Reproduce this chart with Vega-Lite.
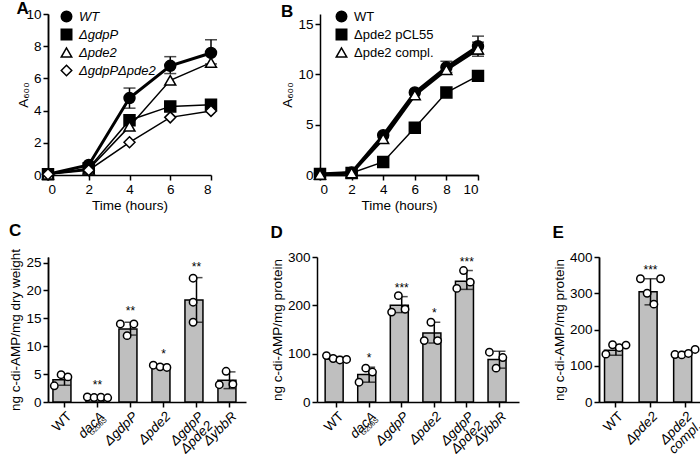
{
 "$schema": "https://vega.github.io/schema/vega-lite/v6.json",
 "background": "white",
 "padding": {"left": 8, "top": 0, "right": 0, "bottom": 0},
 "config": {
  "view": {"stroke": null},
  "font": "Liberation Sans",
  "style": {"guide-label": {"fontSize": 13.5, "fill": "black"}, "guide-title": {"fontSize": 13.5, "fill": "black", "fontWeight": "normal"}},
  "axis": {"domainColor": "black", "domainWidth": 1.5, "tickColor": "black", "tickWidth": 1.5, "tickSize": 5, "labelColor": "black", "labelFontSize": 13.5, "titleFontSize": 13.5, "titleFontWeight": "normal", "titleColor": "black", "grid": false, "labelPadding": 2, "labelOverlap": false, "titlePadding": 3},
  "title": {"fontSize": 17, "fontWeight": "bold", "anchor": "start", "frame": "bounds", "color": "black"},
  "legend": {"labelFontSize": 13, "labelColor": "black"}
 },
 "datasets": {
  "A": [
   {"s": "WT", "t": 0, "v": 0.05}, {"s": "WT", "t": 2, "v": 0.62}, {"s": "WT", "t": 4, "v": 4.78, "lo": 4.15, "hi": 5.4}, {"s": "WT", "t": 6, "v": 6.78, "lo": 6.3, "hi": 7.35}, {"s": "WT", "t": 8, "v": 7.58, "lo": 6.9, "hi": 8.4},
   {"s": "ΔgdpP", "t": 0, "v": 0.05}, {"s": "ΔgdpP", "t": 2, "v": 0.42}, {"s": "ΔgdpP", "t": 4, "v": 3.4}, {"s": "ΔgdpP", "t": 6, "v": 4.26}, {"s": "ΔgdpP", "t": 8, "v": 4.37},
   {"s": "Δpde2", "t": 0, "v": 0.05}, {"s": "Δpde2", "t": 2, "v": 0.35}, {"s": "Δpde2", "t": 4, "v": 3.02}, {"s": "Δpde2", "t": 6, "v": 5.88}, {"s": "Δpde2", "t": 8, "v": 6.98},
   {"s": "ΔgdpPΔpde2", "t": 0, "v": 0.05}, {"s": "ΔgdpPΔpde2", "t": 2, "v": 0.3}, {"s": "ΔgdpPΔpde2", "t": 4, "v": 2.03}, {"s": "ΔgdpPΔpde2", "t": 6, "v": 3.58}, {"s": "ΔgdpPΔpde2", "t": 8, "v": 3.98}
  ],
  "B": [
   {"s": "WT", "t": 0, "v": 0.1}, {"s": "WT", "t": 2, "v": 0.25}, {"s": "WT", "t": 4, "v": 3.95}, {"s": "WT", "t": 6, "v": 8.2}, {"s": "WT", "t": 8, "v": 10.7, "lo": 10.2, "hi": 11.3}, {"s": "WT", "t": 10, "v": 12.8, "lo": 12.0, "hi": 13.8},
   {"s": "Δpde2 pCL55", "t": 0, "v": 0.1}, {"s": "Δpde2 pCL55", "t": 2, "v": 0.2}, {"s": "Δpde2 pCL55", "t": 4, "v": 1.3}, {"s": "Δpde2 pCL55", "t": 6, "v": 4.7}, {"s": "Δpde2 pCL55", "t": 8, "v": 8.2}, {"s": "Δpde2 pCL55", "t": 10, "v": 9.85},
   {"s": "Δpde2 compl.", "t": 0, "v": 0.05}, {"s": "Δpde2 compl.", "t": 2, "v": 0.2}, {"s": "Δpde2 compl.", "t": 4, "v": 3.6}, {"s": "Δpde2 compl.", "t": 6, "v": 7.95}, {"s": "Δpde2 compl.", "t": 8, "v": 10.45}, {"s": "Δpde2 compl.", "t": 10, "v": 12.5, "lo": 11.8, "hi": 13.2}
  ],
  "Cb": [
   {"g": "WT", "m": 4.0, "lo": 3.0, "hi": 4.9, "st": ""},
   {"g": "dacA", "m": 0.8, "lo": 0.6, "hi": 1.0, "st": "**", "sub": "G206S"},
   {"g": "ΔgdpP", "m": 13.1, "lo": 12.0, "hi": 14.3, "st": "**"},
   {"g": "Δpde2", "m": 6.35, "lo": 6.1, "hi": 6.7, "st": "*"},
   {"g": "ΔgdpP|Δpde2", "m": 18.3, "lo": 14.3, "hi": 22.3, "st": "**"},
   {"g": "ΔybbR", "m": 3.9, "lo": 2.4, "hi": 5.4, "st": ""}
  ],
  "Cp": [
   {"g": "WT", "r": 1, "v": 2.9}, {"g": "WT", "r": 2, "v": 4.9}, {"g": "WT", "r": 3, "v": 4.5},
   {"g": "dacA", "r": 1, "v": 0.9}, {"g": "dacA", "r": 2, "v": 0.8}, {"g": "dacA", "r": 3, "v": 0.85}, {"g": "dacA", "r": 4, "v": 0.75},
   {"g": "ΔgdpP", "r": 1, "v": 14.0}, {"g": "ΔgdpP", "r": 2, "v": 11.9}, {"g": "ΔgdpP", "r": 3, "v": 14.0},
   {"g": "Δpde2", "r": 1, "v": 6.6}, {"g": "Δpde2", "r": 2, "v": 6.3}, {"g": "Δpde2", "r": 3, "v": 6.2},
   {"g": "ΔgdpP|Δpde2", "r": 2, "v": 22.2}, {"g": "ΔgdpP|Δpde2", "r": 2, "v": 17.9}, {"g": "ΔgdpP|Δpde2", "r": 2, "v": 14.3},
   {"g": "ΔybbR", "r": 2, "v": 5.5}, {"g": "ΔybbR", "r": 1, "v": 3.1}, {"g": "ΔybbR", "r": 3, "v": 3.2}
  ],
  "Db": [
   {"g": "WT", "m": 89, "lo": 85, "hi": 94, "st": ""},
   {"g": "dacA", "m": 57, "lo": 41, "hi": 72, "st": "*", "sub": "G206S"},
   {"g": "ΔgdpP", "m": 200, "lo": 185, "hi": 218, "st": "***"},
   {"g": "Δpde2", "m": 143, "lo": 122, "hi": 165, "st": "*"},
   {"g": "ΔgdpP|Δpde2", "m": 250, "lo": 233, "hi": 272, "st": "***"},
   {"g": "ΔybbR", "m": 88, "lo": 70, "hi": 105, "st": ""}
  ],
  "Dp": [
   {"g": "WT", "r": 1, "v": 96}, {"g": "WT", "r": 2, "v": 90}, {"g": "WT", "r": 3, "v": 87}, {"g": "WT", "r": 4, "v": 88},
   {"g": "dacA", "r": 1, "v": 41}, {"g": "dacA", "r": 2, "v": 70}, {"g": "dacA", "r": 3, "v": 62},
   {"g": "ΔgdpP", "r": 1, "v": 186}, {"g": "ΔgdpP", "r": 2, "v": 220}, {"g": "ΔgdpP", "r": 3, "v": 192},
   {"g": "Δpde2", "r": 1, "v": 127}, {"g": "Δpde2", "r": 2, "v": 165}, {"g": "Δpde2", "r": 3, "v": 127},
   {"g": "ΔgdpP|Δpde2", "r": 1, "v": 235}, {"g": "ΔgdpP|Δpde2", "r": 2, "v": 272}, {"g": "ΔgdpP|Δpde2", "r": 3, "v": 248},
   {"g": "ΔybbR", "r": 1, "v": 103}, {"g": "ΔybbR", "r": 2, "v": 70}, {"g": "ΔybbR", "r": 3, "v": 92}
  ],
  "Eb": [
   {"g": "WT", "m": 143, "lo": 129, "hi": 156, "st": ""},
   {"g": "Δpde2", "m": 304, "lo": 268, "hi": 340, "st": "***"},
   {"g": "Δpde2|compl.", "m": 133, "lo": 128, "hi": 139, "st": ""}
  ],
  "Ep": [
   {"g": "WT", "r": 1, "v": 132}, {"g": "WT", "r": 2, "v": 158}, {"g": "WT", "r": 3, "v": 150}, {"g": "WT", "r": 4, "v": 157},
   {"g": "Δpde2", "r": 1, "v": 340}, {"g": "Δpde2", "r": 2, "v": 300}, {"g": "Δpde2", "r": 3, "v": 270}, {"g": "Δpde2", "r": 4, "v": 340},
   {"g": "Δpde2|compl.", "r": 1, "v": 131}, {"g": "Δpde2|compl.", "r": 2, "v": 130}, {"g": "Δpde2|compl.", "r": 3, "v": 134}, {"g": "Δpde2|compl.", "r": 4, "v": 145}
  ]
 },
 "spacing": 10,
 "vconcat": [
  {
   "spacing": 60,
   "hconcat": [
    {
     "width": 163, "height": 161,
     "title": {"text": "A", "offset": -11},
     "data": {"name": "A"},
     "layer": [
      {
       "mark": {"type": "line", "color": "black"},
       "encoding": {
        "x": {"field": "t", "type": "quantitative", "scale": {"domain": [0, 8]}, "axis": {"values": [0, 2, 4, 6, 8], "title": "Time (hours)"}},
        "y": {"field": "v", "type": "quantitative", "scale": {"domain": [0, 10]}, "axis": {"values": [0, 4, 8], "title": "A₆₀₀"}},
        "detail": {"field": "s"},
        "strokeWidth": {"condition": {"test": "datum.s === 'WT'", "value": 3}, "value": 1.5}
       }
      },
      {
       "transform": [{"filter": "isValid(datum.hi)"}],
       "mark": {"type": "rule", "color": "black", "strokeWidth": 1.5},
       "encoding": {"x": {"field": "t", "type": "quantitative"}, "y": {"field": "lo", "type": "quantitative", "axis": null}, "y2": {"field": "hi"}}
      },
      {
       "transform": [{"filter": "isValid(datum.hi)"}, {"fold": ["lo", "hi"], "as": ["k", "e"]}],
       "mark": {"type": "tick", "color": "black", "thickness": 1.5, "size": 12, "orient": "horizontal"},
       "encoding": {"x": {"field": "t", "type": "quantitative"}, "y": {"field": "e", "type": "quantitative", "axis": null}}
      },
      {
       "mark": {"type": "point", "strokeWidth": 1.5, "size": 120, "opacity": 1},
       "encoding": {
        "x": {"field": "t", "type": "quantitative"},
        "y": {"field": "v", "type": "quantitative", "axis": {"values": [2, 6, 10], "title": null, "orient": "left"}},
        "shape": {"field": "s", "type": "nominal", "sort": null, "scale": {"domain": ["WT", "ΔgdpP", "Δpde2", "ΔgdpPΔpde2"], "range": ["circle", "square", "triangle-up", "diamond"]}, "legend": {"title": null, "orient": "none", "legendX": 12, "legendY": -4, "padding": 0, "symbolStrokeWidth": 1.5, "symbolSize": 110, "rowPadding": 1, "labelFontStyle": "italic", "labelFontSize": 13, "labelOffset": 6}},
        "fill": {"field": "s", "type": "nominal", "sort": null, "scale": {"domain": ["WT", "ΔgdpP", "Δpde2", "ΔgdpPΔpde2"], "range": ["black", "black", "white", "white"]}, "legend": {"title": null, "orient": "none", "legendX": 12, "legendY": -4, "padding": 0, "symbolStrokeWidth": 1.5, "symbolSize": 110, "rowPadding": 1, "labelFontStyle": "italic", "labelFontSize": 13, "labelOffset": 6}},
        "stroke": {"field": "s", "type": "nominal", "sort": null, "scale": {"domain": ["WT", "ΔgdpP", "Δpde2", "ΔgdpPΔpde2"], "range": ["black", "black", "black", "black"]}, "legend": {"title": null, "orient": "none", "legendX": 12, "legendY": -4, "padding": 0, "symbolStrokeWidth": 1.5, "symbolSize": 110, "rowPadding": 1, "labelFontStyle": "italic", "labelFontSize": 13, "labelOffset": 6}}
       }
      }
     ],
     "resolve": {"axis": {"y": "independent"}}
    },
    {
     "width": 158, "height": 161,
     "title": {"text": "B", "offset": -11},
     "data": {"name": "B"},
     "layer": [
      {
       "mark": {"type": "line", "color": "black"},
       "encoding": {
        "x": {"field": "t", "type": "quantitative", "scale": {"domain": [0, 10]}, "axis": {"values": [0, 4, 8], "title": "Time (hours)"}},
        "y": {"field": "v", "type": "quantitative", "scale": {"domain": [0, 15]}, "axis": {"values": [0, 5, 10, 15], "title": "A₆₀₀"}},
        "detail": {"field": "s"},
        "strokeWidth": {"condition": {"test": "datum.s === 'Δpde2 pCL55'", "value": 1.5}, "value": 3}
       }
      },
      {
       "transform": [{"filter": "isValid(datum.hi)"}],
       "mark": {"type": "rule", "color": "black", "strokeWidth": 1.5},
       "encoding": {"x": {"field": "t", "type": "quantitative", "axis": null}, "y": {"field": "lo", "type": "quantitative"}, "y2": {"field": "hi"}}
      },
      {
       "transform": [{"filter": "isValid(datum.hi)"}, {"fold": ["lo", "hi"], "as": ["k", "e"]}],
       "mark": {"type": "tick", "color": "black", "thickness": 1.5, "size": 12, "orient": "horizontal"},
       "encoding": {"x": {"field": "t", "type": "quantitative", "axis": null}, "y": {"field": "e", "type": "quantitative"}}
      },
      {
       "mark": {"type": "point", "strokeWidth": 1.5, "size": 120, "opacity": 1},
       "encoding": {
        "x": {"field": "t", "type": "quantitative", "axis": {"values": [2, 6, 10], "title": null, "orient": "bottom"}},
        "y": {"field": "v", "type": "quantitative"},
        "shape": {"field": "s", "type": "nominal", "sort": null, "scale": {"domain": ["WT", "Δpde2 pCL55", "Δpde2 compl."], "range": ["circle", "square", "triangle-up"]}, "legend": {"title": null, "orient": "none", "legendX": 15, "legendY": -4, "padding": 0, "symbolStrokeWidth": 1.5, "symbolSize": 110, "rowPadding": 1, "labelFontSize": 13, "labelOffset": 6}},
        "fill": {"field": "s", "type": "nominal", "sort": null, "scale": {"domain": ["WT", "Δpde2 pCL55", "Δpde2 compl."], "range": ["black", "black", "white"]}, "legend": {"title": null, "orient": "none", "legendX": 15, "legendY": -4, "padding": 0, "symbolStrokeWidth": 1.5, "symbolSize": 110, "rowPadding": 1, "labelFontSize": 13, "labelOffset": 6}},
        "stroke": {"field": "s", "type": "nominal", "sort": null, "scale": {"domain": ["WT", "Δpde2 pCL55", "Δpde2 compl."], "range": ["black", "black", "black"]}, "legend": {"title": null, "orient": "none", "legendX": 15, "legendY": -4, "padding": 0, "symbolStrokeWidth": 1.5, "symbolSize": 110, "rowPadding": 1, "labelFontSize": 13, "labelOffset": 6}}
       }
      }
     ],
     "resolve": {"axis": {"x": "independent"}}
    }
   ],
   "resolve": {"scale": {"x": "independent", "y": "independent", "shape": "independent", "fill": "independent", "stroke": "independent"}, "axis": {"x": "independent", "y": "independent"}}
  },
  {
   "spacing": 24,
   "hconcat": [
    {
     "width": 198, "height": 145,
     "title": {"text": "C", "offset": 8},
     "layer": [
      {
       "data": {"name": "Cb"},
       "mark": {"type": "bar", "fill": "#bfbfbf", "stroke": "black", "strokeWidth": 1.5},
       "encoding": {
        "x": {"field": "g", "type": "nominal", "sort": null, "scale": {"paddingInner": 0.3, "paddingOuter": 0.15}, "axis": {"title": null, "labelAngle": -45, "labelAlign": "right", "labelBaseline": "top", "labelExpr": "datum.label === 'dacA' ? 'dacA      ' : split(datum.label, '|')", "labelFontStyle": {"condition": {"test": "datum.value === 'WT'", "value": "normal"}, "value": "italic"}, "labelLineHeight": 13}},
        "y": {"field": "m", "type": "quantitative", "scale": {"domain": [0, 25]}, "axis": {"values": [0, 10, 20], "title": "ng c-di-AMP/mg dry weight"}}
       }
      },
      {
       "data": {"name": "Cb"},
       "mark": {"type": "rule", "color": "black", "strokeWidth": 1.5},
       "encoding": {"x": {"field": "g", "type": "nominal", "sort": null}, "y": {"field": "lo", "type": "quantitative", "axis": null}, "y2": {"field": "hi"}}
      },
      {
       "data": {"name": "Cb"},
       "transform": [{"fold": ["lo", "hi"], "as": ["k", "e"]}],
       "mark": {"type": "tick", "color": "black", "thickness": 1.5, "size": 12, "orient": "horizontal"},
       "encoding": {"x": {"field": "g", "type": "nominal", "sort": null}, "y": {"field": "e", "type": "quantitative", "axis": null}}
      },
      {
       "data": {"name": "Cp"},
       "mark": {"type": "point", "shape": "circle", "fill": "white", "stroke": "black", "strokeWidth": 1.5, "size": 55, "opacity": 1},
       "encoding": {"x": {"field": "g", "type": "nominal", "sort": null}, "xOffset": {"field": "r", "type": "nominal", "scale": {"domain": [1, 2, 3, 4], "paddingOuter": 0.2}}, "y": {"field": "v", "type": "quantitative", "axis": {"values": [5, 15, 25], "title": null, "orient": "left"}}}
      },
      {
       "data": {"name": "Cb"},
       "mark": {"type": "text", "baseline": "bottom", "dy": -4, "fontSize": 12, "color": "black"},
       "encoding": {"x": {"field": "g", "type": "nominal", "sort": null}, "y": {"field": "hi", "type": "quantitative", "axis": null}, "text": {"field": "st"}}
      },
      {
       "data": {"name": "Cb"},
       "transform": [{"filter": "isValid(datum.sub)"}],
       "mark": {"type": "text", "align": "right", "baseline": "alphabetic", "angle": 315, "fontSize": 7, "dx": -6, "dy": 20, "color": "black"},
       "encoding": {"x": {"field": "g", "type": "nominal", "sort": null}, "y": {"datum": 0, "type": "quantitative", "axis": null}, "text": {"field": "sub"}}
      }
     ],
     "resolve": {"axis": {"y": "independent"}}
    },
    {
     "spacing": 33,
     "hconcat": [
      {
       "width": 202, "height": 145,
       "title": {"text": "D", "offset": 8},
       "layer": [
        {
         "data": {"name": "Db"},
         "mark": {"type": "bar", "fill": "#bfbfbf", "stroke": "black", "strokeWidth": 1.5},
         "encoding": {
          "x": {"field": "g", "type": "nominal", "sort": null, "scale": {"paddingInner": 0.3, "paddingOuter": 0.25}, "axis": {"title": null, "labelAngle": -45, "labelAlign": "right", "labelBaseline": "top", "labelExpr": "datum.label === 'dacA' ? 'dacA      ' : split(datum.label, '|')", "labelFontStyle": {"condition": {"test": "datum.value === 'WT'", "value": "normal"}, "value": "italic"}, "labelLineHeight": 13}},
          "y": {"field": "m", "type": "quantitative", "scale": {"domain": [0, 300]}, "axis": {"values": [0, 100, 200, 300], "title": "ng c-di-AMP/mg protein"}}
         }
        },
        {
         "data": {"name": "Db"},
         "mark": {"type": "rule", "color": "black", "strokeWidth": 1.5},
         "encoding": {"x": {"field": "g", "type": "nominal", "sort": null}, "y": {"field": "lo", "type": "quantitative"}, "y2": {"field": "hi"}}
        },
        {
         "data": {"name": "Db"},
         "transform": [{"fold": ["lo", "hi"], "as": ["k", "e"]}],
         "mark": {"type": "tick", "color": "black", "thickness": 1.5, "size": 12, "orient": "horizontal"},
         "encoding": {"x": {"field": "g", "type": "nominal", "sort": null}, "y": {"field": "e", "type": "quantitative"}}
        },
        {
         "data": {"name": "Dp"},
         "mark": {"type": "point", "shape": "circle", "fill": "white", "stroke": "black", "strokeWidth": 1.5, "size": 55, "opacity": 1},
         "encoding": {"x": {"field": "g", "type": "nominal", "sort": null}, "xOffset": {"field": "r", "type": "nominal", "scale": {"domain": [1, 2, 3, 4], "paddingOuter": 0.2}}, "y": {"field": "v", "type": "quantitative"}}
        },
        {
         "data": {"name": "Db"},
         "mark": {"type": "text", "baseline": "bottom", "dy": -2, "fontSize": 12, "color": "black"},
         "encoding": {"x": {"field": "g", "type": "nominal", "sort": null}, "y": {"field": "hi", "type": "quantitative"}, "text": {"field": "st"}}
        },
        {
         "data": {"name": "Db"},
         "transform": [{"filter": "isValid(datum.sub)"}],
         "mark": {"type": "text", "align": "right", "baseline": "alphabetic", "angle": 315, "fontSize": 7, "dx": -6, "dy": 20, "color": "black"},
         "encoding": {"x": {"field": "g", "type": "nominal", "sort": null}, "y": {"datum": 0, "type": "quantitative"}, "text": {"field": "sub"}}
        }
       ]
      },
      {
       "width": 103, "height": 145,
       "title": {"text": "E", "offset": 8},
       "layer": [
        {
         "data": {"name": "Eb"},
         "mark": {"type": "bar", "fill": "#bfbfbf", "stroke": "black", "strokeWidth": 1.5},
         "encoding": {
          "x": {"field": "g", "type": "nominal", "sort": null, "scale": {"paddingInner": 0.34, "paddingOuter": 0.16}, "axis": {"title": null, "labelAngle": -45, "labelAlign": "right", "labelBaseline": "top", "labelExpr": "split(datum.label, '|')", "labelFontStyle": {"condition": {"test": "datum.value === 'WT'", "value": "normal"}, "value": "italic"}, "labelLineHeight": 13}},
          "y": {"field": "m", "type": "quantitative", "scale": {"domain": [0, 400]}, "axis": {"values": [0, 200, 400], "title": "ng c-di-AMP/mg protein"}}
         }
        },
        {
         "data": {"name": "Eb"},
         "mark": {"type": "rule", "color": "black", "strokeWidth": 1.5},
         "encoding": {"x": {"field": "g", "type": "nominal", "sort": null}, "y": {"field": "lo", "type": "quantitative", "axis": null}, "y2": {"field": "hi"}}
        },
        {
         "data": {"name": "Eb"},
         "transform": [{"fold": ["lo", "hi"], "as": ["k", "e"]}],
         "mark": {"type": "tick", "color": "black", "thickness": 1.5, "size": 12, "orient": "horizontal"},
         "encoding": {"x": {"field": "g", "type": "nominal", "sort": null}, "y": {"field": "e", "type": "quantitative", "axis": null}}
        },
        {
         "data": {"name": "Ep"},
         "mark": {"type": "point", "shape": "circle", "fill": "white", "stroke": "black", "strokeWidth": 1.5, "size": 55, "opacity": 1},
         "encoding": {"x": {"field": "g", "type": "nominal", "sort": null}, "xOffset": {"field": "r", "type": "nominal", "scale": {"domain": [1, 2, 3, 4], "paddingOuter": 0.2}}, "y": {"field": "v", "type": "quantitative", "axis": {"values": [100, 300], "title": null, "orient": "left"}}}
        },
        {
         "data": {"name": "Eb"},
         "mark": {"type": "text", "baseline": "bottom", "dy": -2, "fontSize": 12, "color": "black"},
         "encoding": {"x": {"field": "g", "type": "nominal", "sort": null}, "y": {"field": "hi", "type": "quantitative", "axis": null}, "text": {"field": "st"}}
        }
       ],
       "resolve": {"axis": {"y": "independent"}}
      }
     ],
     "resolve": {"scale": {"x": "independent", "y": "independent", "xOffset": "independent"}, "axis": {"x": "independent", "y": "independent"}}
    }
   ],
   "resolve": {"scale": {"x": "independent", "y": "independent", "xOffset": "independent"}, "axis": {"x": "independent", "y": "independent"}}
  }
 ]
}
